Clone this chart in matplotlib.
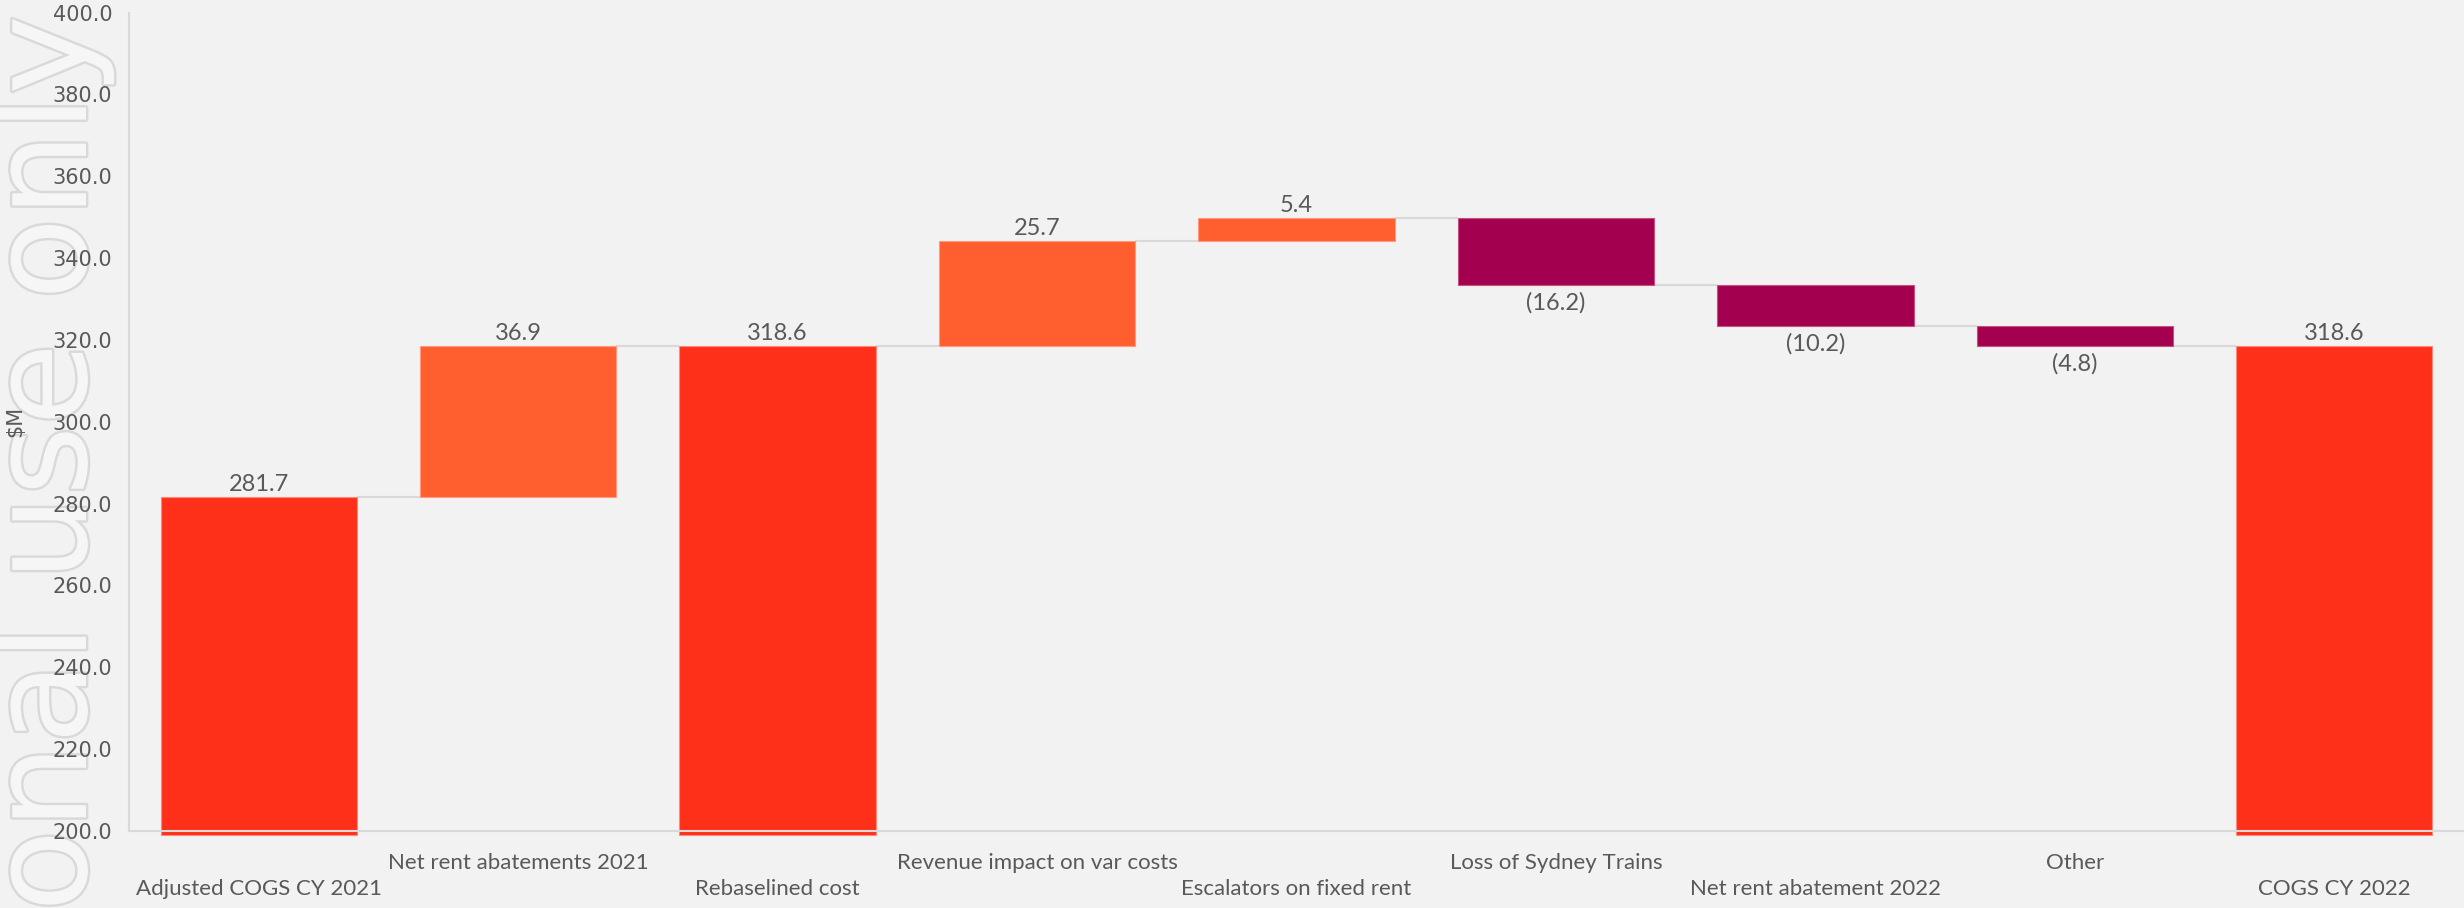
import matplotlib
matplotlib.use("Agg")
import matplotlib.pyplot as plt
import matplotlib.patheffects as pe

categories = ["Adjusted COGS CY 2021", "Net rent abatements 2021", "Rebaselined cost",
              "Revenue impact on var costs", "Escalators on fixed rent", "Loss of Sydney Trains",
              "Net rent abatement 2022", "Other", "COGS CY 2022"]
kinds = ["total", "delta", "total", "delta", "delta", "delta", "delta", "delta", "total"]
values = [281.7, 36.9, 318.6, 25.7, 5.4, -16.2, -10.2, -4.8, 318.6]
y_ticks = [200, 220, 240, 260, 280, 300, 320, 340, 360, 380, 400]

BG = "#F2F2F2"
C_TOTAL = "#FF3019"
C_UP = "#FF5F2E"
C_DOWN = "#A3004F"
GREY_TXT = "#595959"
LINE = "#D9D9D9"

fig = plt.figure(figsize=(24.64, 9.08), dpi=100, facecolor=BG)
ax = fig.add_axes([129/2464, 1-831/908, 1-129/2464, (831-12.6)/908])
ax.set_facecolor(BG)
ax.patch.set_alpha(0)

ymin, ymax = 200, 400
ax.set_ylim(ymin, ymax)
ax.set_xlim(-0.5, len(categories) - 0.5)

LBL = dict(fontsize=17, color=GREY_TXT, family="Lato", annotation_clip=False)

width = 0.757
running = 0.0
levels = []
for i, (k, v) in enumerate(zip(kinds, values)):
    if k == "total":
        bottom = ymin - 0.9
        ax.bar(i, v - bottom, bottom=bottom, width=width, color=C_TOTAL,
               edgecolor="#FF8A7A", linewidth=0.8, clip_on=False, zorder=2)
        ax.annotate(f"{v:.1f}", xy=(i, v), xytext=(0, 6), textcoords="offset pixels",
                    ha="center", va="baseline", **LBL)
        running = v
    else:
        start = running
        end = running + v
        color = C_UP if v >= 0 else C_DOWN
        ax.bar(i, v, bottom=start, width=width, color=color,
               edgecolor="#FF9A80" if v >= 0 else "#C8507F", linewidth=0.8, zorder=2)
        if v >= 0:
            ax.annotate(f"{v:.1f}", xy=(i, end), xytext=(0, 6), textcoords="offset pixels",
                        ha="center", va="baseline", **LBL)
        else:
            ax.annotate(f"({abs(v):.1f})", xy=(i, end), xytext=(0, -7),
                        textcoords="offset pixels", ha="center", va="top", **LBL)
        running = end
    levels.append(running)

# connectors
for i in range(len(categories) - 1):
    lvl = levels[i]
    ax.plot([i + width / 2, i + 1 - width / 2], [lvl, lvl], color=LINE,
            linewidth=1.5, zorder=1, solid_capstyle="butt")

ax.set_yticks(y_ticks)
ax.set_yticklabels([f"{t:.1f}" for t in y_ticks], fontsize=15, color=GREY_TXT,
                   family="DejaVu Sans")
ax.tick_params(axis="y", length=0, pad=12)
ax.tick_params(axis="x", length=0)
ax.set_xticks(range(len(categories)))
ax.set_xticklabels([])
for i, c in enumerate(categories):
    yoff = -58 if i % 2 == 0 else -32
    ax.annotate(c, xy=(i, ymin), xycoords="data", xytext=(0, yoff),
                textcoords="offset pixels", ha="center", va="center",
                fontsize=16, color=GREY_TXT, family="Lato", annotation_clip=False)

for s in ["top", "right"]:
    ax.spines[s].set_visible(False)
for s in ["left", "bottom"]:
    ax.spines[s].set_color(LINE)
    ax.spines[s].set_linewidth(1.5)
    ax.spines[s].set_zorder(3)

fig.text(15 / 2464, 1 - 421 / 908, "$M", rotation=90, ha="center", va="center",
         fontsize=15, color=GREY_TXT, family="DejaVu Sans")

wm = fig.text(86 / 2464, 1 - 912 / 908, "onal use only", rotation=90,
              rotation_mode="anchor", ha="left", va="baseline",
              fontsize=97, color="#F6F6F6", family="DejaVu Sans", zorder=-1)
wm.set_path_effects([pe.Stroke(linewidth=3.5, foreground="#D9D9D9"), pe.Normal()])

fig.savefig("out.png", dpi=100, facecolor=BG)
